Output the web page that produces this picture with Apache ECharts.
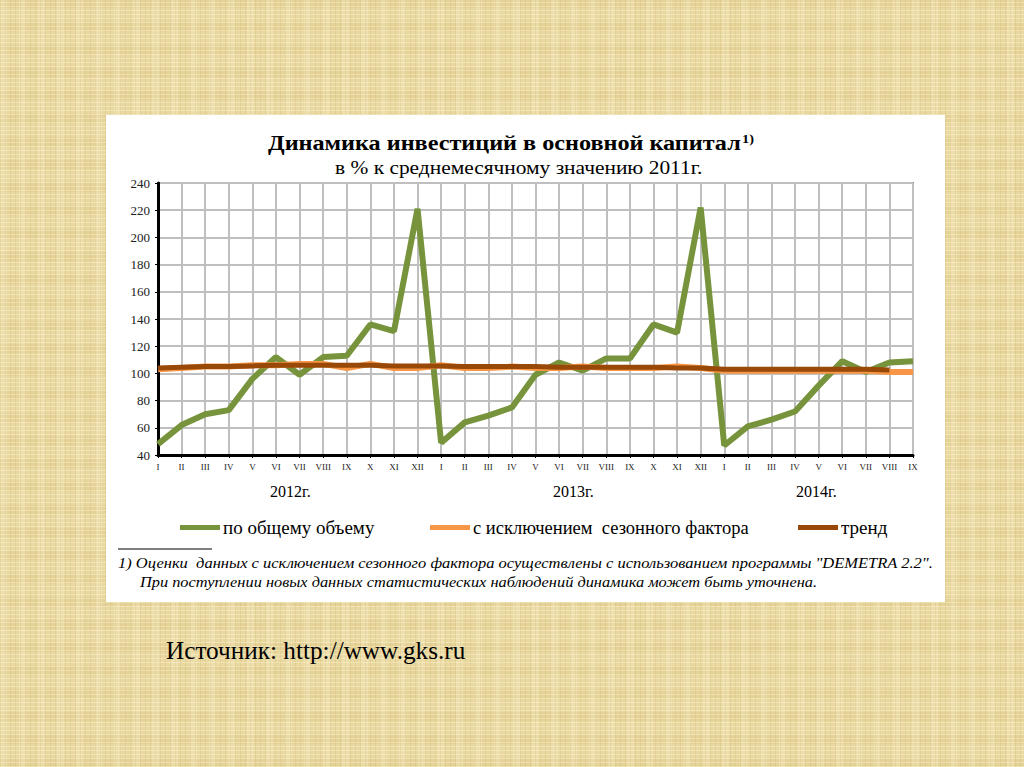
<!DOCTYPE html>
<html>
<head>
<meta charset="utf-8">
<script src="https://cdn.jsdelivr.net/npm/echarts@6/dist/echarts.min.js"></script>
<style>
html,body{margin:0;padding:0;}
#bg{position:absolute;left:0;top:0;width:1024px;height:767px;overflow:hidden;
 background-color:#e9d8a0;
 background-image:
  repeating-linear-gradient(0deg, rgba(255,250,225,0.35) 0px, rgba(255,250,225,0.35) 1px, rgba(0,0,0,0) 1px, rgba(0,0,0,0) 4px),
  repeating-linear-gradient(90deg, rgba(190,160,80,0.18) 0px, rgba(190,160,80,0.18) 1px, rgba(0,0,0,0) 1px, rgba(0,0,0,0) 5px),
  repeating-linear-gradient(90deg, rgba(255,248,220,0.22) 0px, rgba(255,248,220,0.22) 7px, rgba(0,0,0,0) 7px, rgba(0,0,0,0) 19px),
  repeating-linear-gradient(0deg, rgba(200,170,90,0.13) 0px, rgba(200,170,90,0.13) 9px, rgba(0,0,0,0) 9px, rgba(0,0,0,0) 23px);}
#panel{position:absolute;left:106px;top:115px;width:839px;height:487px;background:#ffffff;}
#chart{position:absolute;left:0;top:0;width:1024px;height:767px;}
</style>
</head>
<body>
<div id="bg"></div>
<div id="panel"></div>
<div id="chart"></div>
<script>
// ---- data ----
var months = ['I','II','III','IV','V','VI','VII','VIII','IX','X','XI','XII'];
var years = ['2012', '2013', '2014'];
var monthsPerYear = [12, 12, 9];
var yearLabels = ['2012г.', '2013г.', '2014г.'];
var yTicks = [40, 60, 80, 100, 120, 140, 160, 180, 200, 220, 240];

var totalVolume = [
  48, 62, 70, 73, 96, 112, 99, 112, 113, 136, 131, 221,
  49, 64, 69, 75, 99, 108, 102, 111, 111, 136, 130, 222,
  47, 61, 66, 72, 91, 109, 101, 108, 109
];
var seasonallyAdjusted = [
  103, 104, 105, 105, 106, 106, 107, 107, 104, 107, 104, 104,
  106, 104, 104, 105, 104, 104, 105, 104, 104, 104, 105, 104,
  102, 102, 102, 102, 102, 102, 102, 101, 101
];
var trend = [
  104, 104.5, 105, 105, 105.5, 106, 106, 106, 106, 106, 105.5, 105.5,
  105.5, 105, 105, 105, 105, 104.5, 104.5, 104.5, 104.5, 104.5, 104, 104,
  103, 103, 103, 103, 103, 103, 103, 102.5, null
];

var seriesNames = ['по общему объему', 'с исключением  сезонного фактора', 'тренд'];
var titleText = 'Динамика инвестиций в основной капитал';
var titleNote = '1)';
var subtitleText = 'в % к среднемесячному значению 2011г.';
var footnote1 = '1) Оценки  данных с исключением сезонного фактора осуществлены с использованием программы "DEMETRA 2.2".';
var footnote2 = 'При поступлении новых данных статистических наблюдений динамика может быть уточнена.';
var sourceText = 'Источник: http://www.gks.ru';

// categories
var categories = [];
for (var y = 0; y < years.length; y++) {
  for (var m = 0; m < monthsPerYear[y]; m++) categories.push(years[y] + '-' + months[m]);
}

var serif = '"Liberation Serif", "DejaVu Serif", serif';
var colors = ['#77933c', '#f79646', '#984807'];

var chart = echarts.init(document.getElementById('chart'), null, {renderer: 'svg'});

var gridLeft = 158, gridTop = 183, gridRight = 1024 - 913, gridBottom = 767 - 455;

function legendAt(i, left, size) {
  return {
    show: true,
    data: [seriesNames[i]],
    left: left, top: 513,
    icon: 'rect', itemWidth: 40, itemHeight: 5, itemGap: 6,
    textStyle: {fontFamily: serif, fontSize: size, color: '#000', padding: [0, 0, 0, -2]},
    selectedMode: false
  };
}

function txt(x, y, text, font, sx) {
  return {type: 'text', x: x, y: y, scaleX: sx || 1,
          style: {text: text, font: font, fill: '#000', textAlign: 'left', textVerticalAlign: 'top'}};
}

var option = {
  animation: false,
  backgroundColor: 'transparent',
  legend: [legendAt(0, 175, 19), legendAt(1, 425, 18.5), legendAt(2, 793, 19)],
  grid: {left: gridLeft, top: gridTop, right: gridRight, bottom: gridBottom,
         show: true, borderColor: '#808080', borderWidth: 2, backgroundColor: 'transparent'},
  xAxis: {
    type: 'category',
    data: categories,
    boundaryGap: false,
    axisLine: {show: true, onZero: false, lineStyle: {color: '#000', width: 3}},
    axisTick: {show: true, length: 3, inside: false, lineStyle: {color: '#000', width: 1}},
    axisLabel: {
      interval: 0, margin: 7,
      fontFamily: serif, fontSize: 9, color: '#222',
      formatter: function (v) { return v.split('-')[1]; }
    },
    splitLine: {show: true, interval: 0, lineStyle: {color: '#bfbfbf', width: 2}}
  },
  yAxis: {
    type: 'value',
    min: yTicks[0], max: yTicks[yTicks.length - 1], interval: 20,
    axisLine: {show: true, lineStyle: {color: '#000', width: 3}},
    axisTick: {show: true, length: 3, lineStyle: {color: '#000'}},
    axisLabel: {fontFamily: serif, fontSize: 13, color: '#222', margin: 8},
    splitLine: {show: true, lineStyle: {color: '#bfbfbf', width: 2}}
  },
  series: [
    {name: seriesNames[0], type: 'line', data: totalVolume, symbol: 'none',
     lineStyle: {color: colors[0], width: 6}, itemStyle: {color: colors[0]}, z: 3},
    {name: seriesNames[1], type: 'line', data: seasonallyAdjusted, symbol: 'none',
     lineStyle: {color: colors[1], width: 6}, itemStyle: {color: colors[1]}, z: 4},
    {name: seriesNames[2], type: 'line', data: trend, symbol: 'none', connectNulls: false,
     lineStyle: {color: colors[2], width: 5}, itemStyle: {color: colors[2]}, z: 5}
  ],
  graphic: [
    txt(268, 131, titleText, 'bold 22px ' + serif, 1.1),
    txt(742, 132, titleNote, 'bold 13px ' + serif, 1.1),
    txt(335, 159, subtitleText, '18px ' + serif, 1.19),
    txt(270, 483, yearLabels[0], '16px ' + serif, 1),
    txt(553, 483, yearLabels[1], '16px ' + serif, 1),
    txt(796, 483, yearLabels[2], '16px ' + serif, 1),
    {type: 'line', shape: {x1: 118, y1: 549, x2: 212, y2: 549}, style: {stroke: '#000', lineWidth: 1}},
    txt(118, 555, footnote1, 'italic 15px ' + serif, 1.1),
    txt(140, 574, footnote2, 'italic 15px ' + serif, 1.09),
    txt(166, 638, sourceText, '25px ' + serif, 1.01)
  ]
};
chart.setOption(option);
</script>
</body>
</html>
